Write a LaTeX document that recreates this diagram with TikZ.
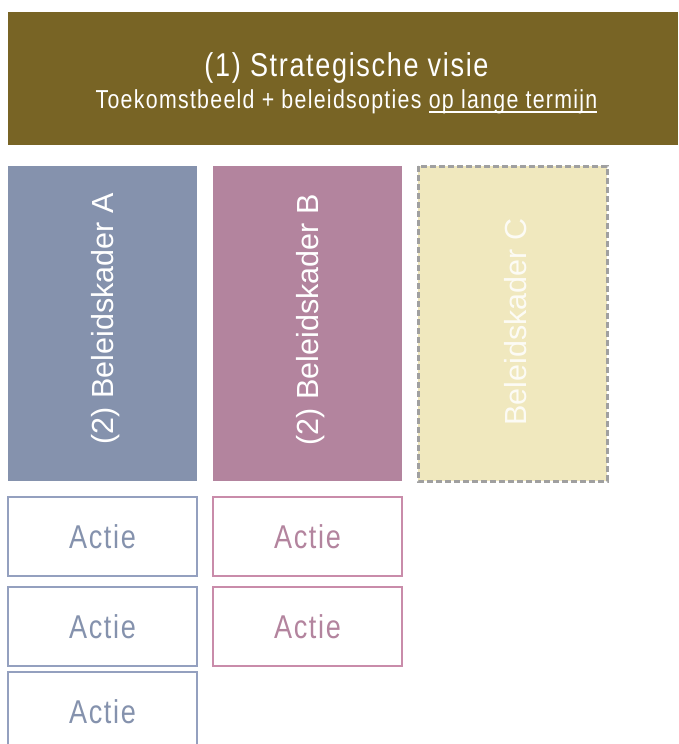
\documentclass[tikz,border=0pt]{standalone}
\usepackage{fontspec}
\setmainfont{Liberation Sans}
\newfontfamily\smalfont{Liberation Sans}[FakeStretch=0.82,LetterSpace=5]
\usetikzlibrary{positioning}

\definecolor{visiekleur}{HTML}{786425}
\definecolor{kleurA}{HTML}{8592AD}
\definecolor{kleurB}{HTML}{B3849E}
\definecolor{kleurC}{HTML}{F0E8BE}
\definecolor{randC}{HTML}{A0A0A0}
\definecolor{lijnA}{HTML}{94A0BF}
\definecolor{lijnB}{HTML}{C98CAA}

\newcommand{\onderstreep}[1]{\setbox0\hbox{#1}\rlap{\rule[-4pt]{\wd0}{1.3pt}}\box0}

\begin{document}
\begin{tikzpicture}[x=1pt,y=-1pt,
    kader/.style={rotate=90,text=white,font=\fontsize{30.5}{36}\selectfont},
    actie/.style={text=#1,font=\smalfont\fontsize{33}{40}\selectfont}]
  \def\wid{189}
  \def\colx{205}
  \def\hei{79}

  \useasboundingbox (0,0) rectangle (678,744);
  \clip (0,0) rectangle (678,744);

  % strategische visie
  \fill[visiekleur] (8,12) rectangle (678,145);
  \node[text=white,font=\smalfont\fontsize{33}{40}\selectfont] (visie) at (346.5,68) {(1) Strategische visie};
  \node[text=white,font=\smalfont\fontsize{26}{31}\selectfont] (opties) at (346.5,102)
    {Toekomstbeeld + beleidsopties \onderstreep{op lange termijn}};

  % beleidskaders
  \fill[kleurA] (8,166) rectangle ++(\wid,315);
  \fill[kleurB] (8+\colx,166) rectangle ++(\wid,315);
  \draw[randC,fill=kleurC,line width=3pt,dash pattern=on 6pt off 3pt] (8+\colx*2,166) rectangle ++(\wid,315);
  \node[kader] (kaderA) at (106,319) {(2) Beleidskader A};
  \node[kader] (kaderB) at (106+\colx,320) {(2) Beleidskader B};
  \node[kader,text opacity=0.85] (kaderC) at (106+\colx*2,322) {Beleidskader C};

  % acties
  \draw[lijnA,line width=1.5pt] (8,497) rectangle ++(\wid,\hei) node[midway,actie=kleurA] (actieA1) {Actie};
  \draw[lijnA,line width=1.5pt] (8,587) rectangle ++(\wid,\hei) node[midway,actie=kleurA] (actieA2) {Actie};
  \draw[lijnA,line width=1.5pt] (8,672) rectangle ++(\wid,\hei) node[midway,actie=kleurA] (actieA3) {Actie};
  \draw[lijnB,line width=1.5pt] (8+\colx,497) rectangle ++(\wid,\hei) node[midway,actie=kleurB] (actieB1) {Actie};
  \draw[lijnB,line width=1.5pt] (8+\colx,587) rectangle ++(\wid,\hei) node[midway,actie=kleurB] (actieB2) {Actie};
\end{tikzpicture}
\end{document}
